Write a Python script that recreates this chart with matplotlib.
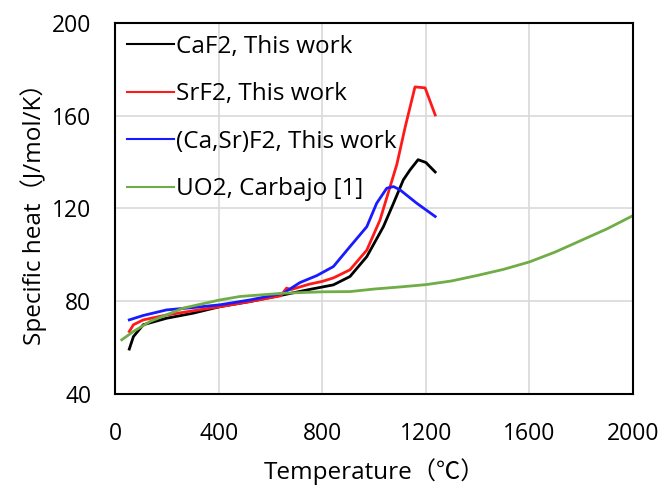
import numpy as np
import matplotlib.pyplot as plt

plt.rcParams['font.family'] = ['Open Sans', 'Noto Sans CJK JP', 'DejaVu Sans']

# CaF2, this work
t_caf2 = [55, 71, 109, 199, 302, 405, 521, 650, 750, 843, 907, 972, 1036, 1075, 1113,
          1139, 1170, 1200, 1236]
cp_caf2 = [59.3, 64.7, 69.8, 72.6, 74.8, 77.6, 79.8, 82.7, 85.0, 87.0, 90.6, 99.2, 112.1,
           122.2, 132.3, 136.6, 141.0, 139.8, 135.7]

# SrF2, this work
t_srf2 = [55, 71, 109, 199, 300, 405, 520, 640, 662, 680, 750, 800, 843, 907, 972, 1023,
          1062, 1088, 1120, 1158, 1197, 1236]
cp_srf2 = [66.9, 69.8, 71.9, 74.0, 75.8, 77.6, 79.8, 82.3, 85.6, 85.0, 87.3, 88.5, 90.0,
           93.5, 102.0, 115.0, 129.4, 139.0, 155.0, 172.4, 172.0, 160.3]

# (Ca,Sr)F2, this work
t_casr = [55, 109, 199, 300, 405, 521, 650, 714, 779, 843, 907, 972, 1010, 1049, 1075,
          1100, 1165, 1236]
cp_casr = [71.9, 73.8, 76.2, 77.2, 78.4, 80.5, 83.4, 88.0, 91.0, 94.9, 103.5, 112.1, 122.2,
           128.7, 129.4, 128.0, 122.2, 116.5]

# UO2, Carbajo [1]
t_uo2 = [26, 71, 135, 264, 405, 483, 650, 800, 907, 1000, 1100, 1200, 1300, 1400, 1500,
         1600, 1700, 1800, 1900, 2000]
cp_uo2 = [63.3, 66.9, 71.2, 77.0, 80.5, 82.0, 83.4, 84.0, 84.1, 85.2, 86.1, 87.1, 88.7,
          91.1, 93.7, 96.9, 101.2, 106.2, 111.2, 116.9]

series = [
    (t_caf2, cp_caf2, '#000000', 'CaF2, This work'),
    (t_srf2, cp_srf2, '#ff1a1a', 'SrF2, This work'),
    (t_casr, cp_casr, '#1a1aff', '(Ca,Sr)F2, This work'),
    (t_uo2, cp_uo2, '#70ad47', 'UO2, Carbajo [1]'),
]

fig = plt.figure(figsize=(6.65, 4.88), dpi=100)
ax = fig.add_axes([0.173, 0.193, 0.779, 0.760])

for t, cp, c, lab in series:
    ax.plot(t, cp, color=c, lw=2.0, label=lab)

ax.set_xlim(0, 2000)
ax.set_ylim(40, 200)
ax.set_xticks(np.arange(0, 2001, 400))
ax.set_yticks(np.arange(40, 201, 40))
ax.grid(True, color='#d9d9d9', lw=1.2)
ax.set_axisbelow(True)
ax.tick_params(length=0, labelsize=16.5)
ax.tick_params(axis='x', pad=20)
ax.tick_params(axis='y', pad=17)
for s in ax.spines.values():
    s.set_linewidth(1.5)

ax.set_xlabel('Temperature（℃）', fontsize=17.5, labelpad=9)
ax.set_ylabel('Specific heat（J/mol/K）', fontsize=17.5, labelpad=4)

leg = ax.legend(loc='upper left', frameon=False, fontsize=17.5, handlelength=1.9,
                handletextpad=0.1, labelspacing=0.97, borderaxespad=0.0,
                bbox_to_anchor=(0.005, 0.995))
for h in leg.get_lines():
    h.set_linewidth(1.5)

fig.savefig('out.png', dpi=100)
